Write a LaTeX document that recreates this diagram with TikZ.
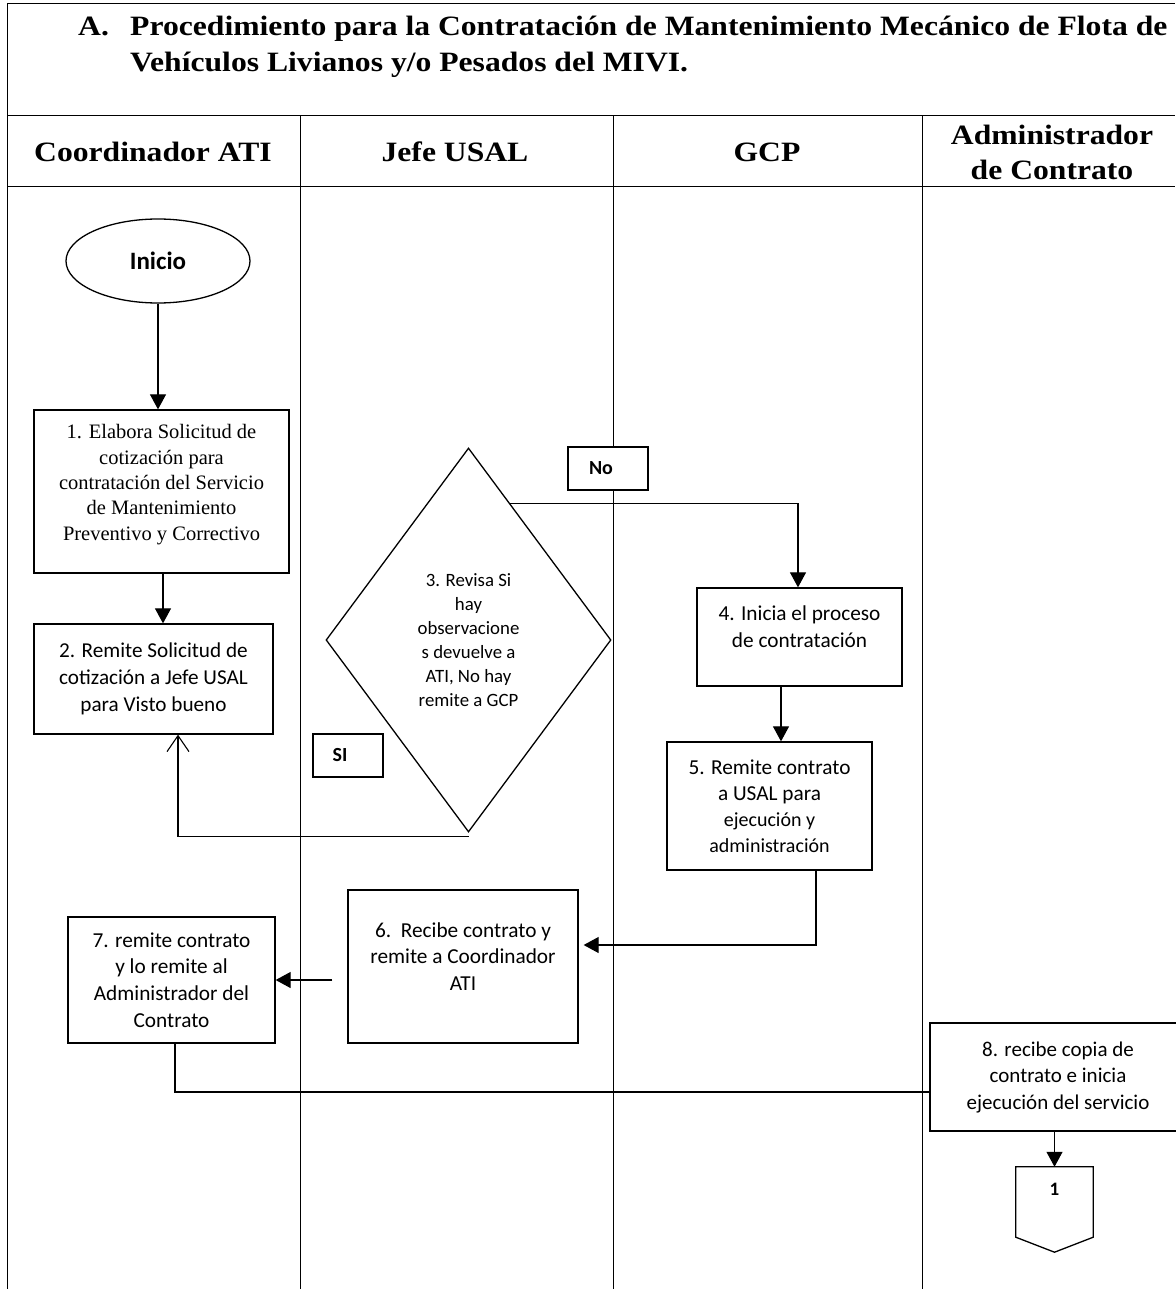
\documentclass[tikz,border=0pt]{standalone}
\usepackage{fontspec}
\setmainfont{Liberation Serif}
\newfontfamily\calfont{Carlito}
\newfontfamily\widefont{Liberation Serif}[FakeStretch=1.13]
\usetikzlibrary{shapes.geometric,arrows.meta}
\tikzset{
  lane/.style={line width=1pt},
  box/.style={draw, line width=1.3pt, align=center, inner sep=2pt, font=\calfont\fontsize{21.3}{26.7}\selectfont},
  txt/.style={align=center, font=\calfont\fontsize{21.3}{26.7}\selectfont},
  tagbox/.style={draw, fill=white, line width=1.3pt},
  tagtxt/.style={font=\calfont\bfseries\fontsize{20}{22}\selectfont},
  arr/.style={line width=1.1pt, -{Triangle[length=15pt,width=16pt]}},
  openarr/.style={line width=1.1pt, -{Straight Barb[length=16pt,width=22pt,line width=1.1pt]}},
  conn/.style={line width=1.1pt},
  hdr/.style={font=\widefont\bfseries\fontsize{28}{35}\selectfont, align=center},
}
\begin{document}
\begin{tikzpicture}[x=1pt,y=-1pt]
\useasboundingbox (0,0) rectangle (1175,1289);
% frame and lanes
\draw[lane] (7,1289) -- (7,4) -- (1175,4);
\draw[lane] (7,116) -- (1175,116);
\draw[lane] (7,187) -- (1175,187);
\draw[lane] (300,116) -- (300,1289);
\draw[lane] (613,116) -- (613,1289);
\draw[lane] (922,116) -- (922,1289);
% title
\node[anchor=base west, font=\widefont\bfseries\fontsize{28}{35}\selectfont, inner sep=0] (tA) at (78,36) {A.};
\node[anchor=base west, font=\widefont\bfseries\fontsize{28}{35}\selectfont, inner sep=0] (t1) at (130,36) {Procedimiento para la Contratación de Mantenimiento Mecánico de Flota de};
\node[anchor=base west, font=\widefont\bfseries\fontsize{28}{35}\selectfont, inner sep=0] (t2) at (130,72) {Vehículos Livianos y/o Pesados del MIVI.};
% headers
\node[hdr] (h1) at (153,152) {Coordinador ATI};
\node[hdr] (h2) at (455,152) {Jefe USAL};
\node[hdr] (h3) at (767,152) {GCP};
\node[hdr] (h4) at (1052,152) {Administrador\\de Contrato};
% nodes
\node[draw, ellipse, line width=1.3pt, minimum width=184, minimum height=84, font=\calfont\bfseries\fontsize{25}{28}\selectfont] (ini) at (158,261) {Inicio};
\node[box, minimum width=255, minimum height=163,
  label={[align=center, yshift=7pt, font=\fontsize{20.5}{25.4}\selectfont]center:1. Elabora Solicitud de\\cotización para\\contratación del Servicio\\de Mantenimiento\\Preventivo y Correctivo}] (b1) at (161.5,491.5) {};
\node[box, minimum width=239, minimum height=110, font=\calfont\fontsize{21.2}{27}\selectfont] (b2) at (153.5,679)
  {2. Remite Solicitud de\\cotización a Jefe USAL\\para Visto bueno};
\node[draw, diamond, line width=1.3pt, minimum width=285, minimum height=384, inner sep=0, align=center, font=\calfont\fontsize{18.8}{24}\selectfont] (d) at (468.5,640)
  {3. Revisa Si\\hay\\observacione\\s devuelve a\\ATI, No hay\\remite a GCP};
\node[tagbox, minimum width=80, minimum height=43, label={[tagtxt, xshift=-7pt]center:No}] (no) at (608,468.5) {};
\node[tagbox, minimum width=70, minimum height=43, label={[tagtxt, xshift=-8pt]center:SI}] (si) at (348,755.5) {};
\node[box, minimum width=205, minimum height=98,
  label={[txt, yshift=10pt]center:4. Inicia el proceso\\de contratación}] (b4) at (799.5,637) {};
\node[box, minimum width=205, minimum height=128, font=\calfont\fontsize{21.3}{26}\selectfont] (b5) at (769.5,806)
  {5. Remite contrato\\a USAL para\\{\fontsize{20}{24}\selectfont ejecución y}\\{\fontsize{20}{24}\selectfont administración}};
\node[box, minimum width=230, minimum height=153,
  label={[txt, yshift=10pt]center:6.\ \ Recibe contrato y\\remite a Coordinador\\ATI}] (b6) at (463,966.5) {};
\node[box, minimum width=207, minimum height=126] (b7) at (171.5,980)
  {7. remite contrato\\y lo remite al\\Administrador del\\Contrato};
\node[box, minimum width=256, minimum height=108, font=\calfont\fontsize{21}{26.5}\selectfont] (b8) at (1058,1077)
  {8. recibe copia de\\contrato e inicia\\ejecución del servicio};
\node[minimum width=77, minimum height=85, inner sep=0,
  label={[anchor=north, yshift=-13pt, font=\calfont\bfseries\fontsize{19}{20}\selectfont]north:1}] (c1) at (1054.5,1209.5) {};
\draw[line width=1.3pt] (c1.north west) -- (c1.north east) -- ([yshift=15pt]c1.south east) -- (c1.south) -- ([yshift=15pt]c1.south west) -- cycle;
% connectors
\draw[arr] (ini.south) -- (ini.south |- b1.north);
\draw[arr] ([xshift=1.5pt]b1.south) -- ([xshift=1.5pt]b1.south |- b2.north);
\draw[arr] (d.73) -| ([xshift=-1.5pt]b4.north);
\draw[openarr] ([yshift=-4pt]d.south) -| ([xshift=24.5pt]b2.south);
\draw[arr] ([xshift=-18.5pt]b4.south) -- ([xshift=-18.5pt]b4.south |- b5.north);
\draw[arr, shorten >=5pt] ([xshift=46.5pt]b5.south) |- ([yshift=21.5pt]b6.east);
\draw[arr, shorten <=15pt] (b6.west |- b7.east) -- (b7.east);
\draw[conn] ([xshift=3.5pt]b7.south) |- ([yshift=-15pt]b8.west);
\draw[arr] ([xshift=-3.5pt]b8.south) -- (c1.north);
\end{tikzpicture}
\end{document}
